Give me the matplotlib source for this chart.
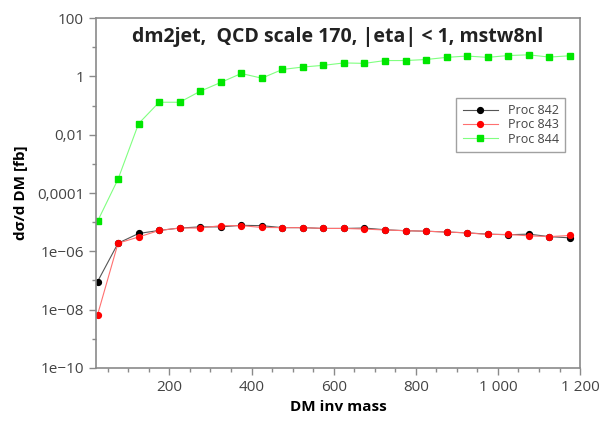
import matplotlib
matplotlib.use("Agg")
import matplotlib.pyplot as plt
from matplotlib.ticker import FixedLocator, FuncFormatter, MultipleLocator, NullFormatter

plt.rcParams['font.family'] = ['Open Sans', 'DejaVu Sans']

mass = [25, 75, 125, 175, 225, 275, 325, 375, 425, 475, 525, 575,
        625, 675, 725, 775, 825, 875, 925, 975, 1025, 1075, 1125, 1175]

proc842 = [9.1e-8, 1.9e-6, 4.1e-6, 5.2e-6, 6.3e-6, 6.9e-6, 6.9e-6, 7.8e-6,
           7.6e-6, 6.5e-6, 6.5e-6, 6.1e-6, 6.1e-6, 6.3e-6, 5.5e-6, 5.1e-6,
           4.9e-6, 4.6e-6, 4.3e-6, 3.9e-6, 3.7e-6, 3.9e-6, 3.2e-6, 2.9e-6]
proc843 = [6.6e-9, 1.9e-6, 3.1e-6, 5.2e-6, 6.3e-6, 6.3e-6, 7.6e-6, 7.6e-6,
           6.6e-6, 6.5e-6, 6.5e-6, 6.1e-6, 6.1e-6, 5.8e-6, 5.4e-6, 5.1e-6,
           4.9e-6, 4.6e-6, 4.3e-6, 3.8e-6, 3.8e-6, 3.4e-6, 3.2e-6, 3.5e-6]
proc844 = [1.07e-5, 3.0e-4, 0.024, 0.13, 0.13, 0.31, 0.62, 1.26, 0.87, 1.73,
           2.1, 2.4, 2.9, 2.8, 3.5, 3.5, 3.8, 4.5, 5.0, 4.5, 5.2, 5.5, 4.6, 5.1]

ytick_vals = [1e-10, 1e-8, 1e-6, 1e-4, 1e-2, 1, 100]
ytick_labels = ["1e\u221210", "1e\u221208", "1e\u221206", "0,0001", "0,01", "1", "100"]

grey = "#8a8a8a"
textc = "#444444"

fig = plt.figure(figsize=(6.03, 4.21), dpi=100)
ax = fig.add_axes([0.159, 0.126, 0.803, 0.831])

ax.plot(mass, proc842, color="#555555", lw=0.8, marker="o", ms=4.2,
        mfc="black", mec="black", label="Proc 842")
ax.plot(mass, proc843, color="#ff7070", lw=0.8, marker="o", ms=4.2,
        mfc="red", mec="red", label="Proc 843")
ax.plot(mass, proc844, color="#80ff80", lw=0.8, marker="s", ms=4.2,
        mfc="#00e600", mec="#00e600", label="Proc 844")

ax.set_yscale("log")
ax.set_ylim(1e-10, 100)
ax.set_xlim(21, 1200)

ax.yaxis.set_major_locator(FixedLocator(ytick_vals))
ax.yaxis.set_major_formatter(FuncFormatter(
    lambda v, p: dict(zip(ytick_vals, ytick_labels)).get(v, "")))
ax.yaxis.set_minor_locator(FixedLocator([1e-9, 1e-7, 1e-5, 1e-3, 1e-1, 10]))
ax.yaxis.set_minor_formatter(NullFormatter())

ax.xaxis.set_major_locator(MultipleLocator(200))
ax.xaxis.set_minor_locator(MultipleLocator(50))
ax.xaxis.set_major_formatter(FuncFormatter(
    lambda v, p: "" if v < 100 else f"{int(v):,}".replace(",", " ")))

for s in ax.spines.values():
    s.set_color(grey)
    s.set_linewidth(1.2)

ax.tick_params(which="both", direction="out", colors=grey, labelcolor=textc,
               labelsize=11, top=False, right=False)
ax.tick_params(which="major", length=5, width=1)
ax.tick_params(which="minor", length=3, width=1)

ax.set_xlabel("DM inv mass", fontsize=11, fontweight="bold", color="black")
ax.set_ylabel("d\u03c3/d DM [fb]", fontsize=11, fontweight="bold", color="black",
              labelpad=6)

ax.text(0.5, 0.975, "dm2jet,  QCD scale 170, |eta| < 1, mstw8nl",
        transform=ax.transAxes, ha="center", va="top",
        fontsize=14, fontweight="bold", color="#222222")

leg = ax.legend(loc="upper right", bbox_to_anchor=(0.982, 0.79),
                fontsize=9, frameon=True, fancybox=False,
                handlelength=2.8, borderpad=0.5, labelspacing=0.1)
leg.get_frame().set_edgecolor(grey)
leg.get_frame().set_linewidth(1)
for t in leg.get_texts():
    t.set_color(textc)

fig.savefig("out.png", dpi=100)
